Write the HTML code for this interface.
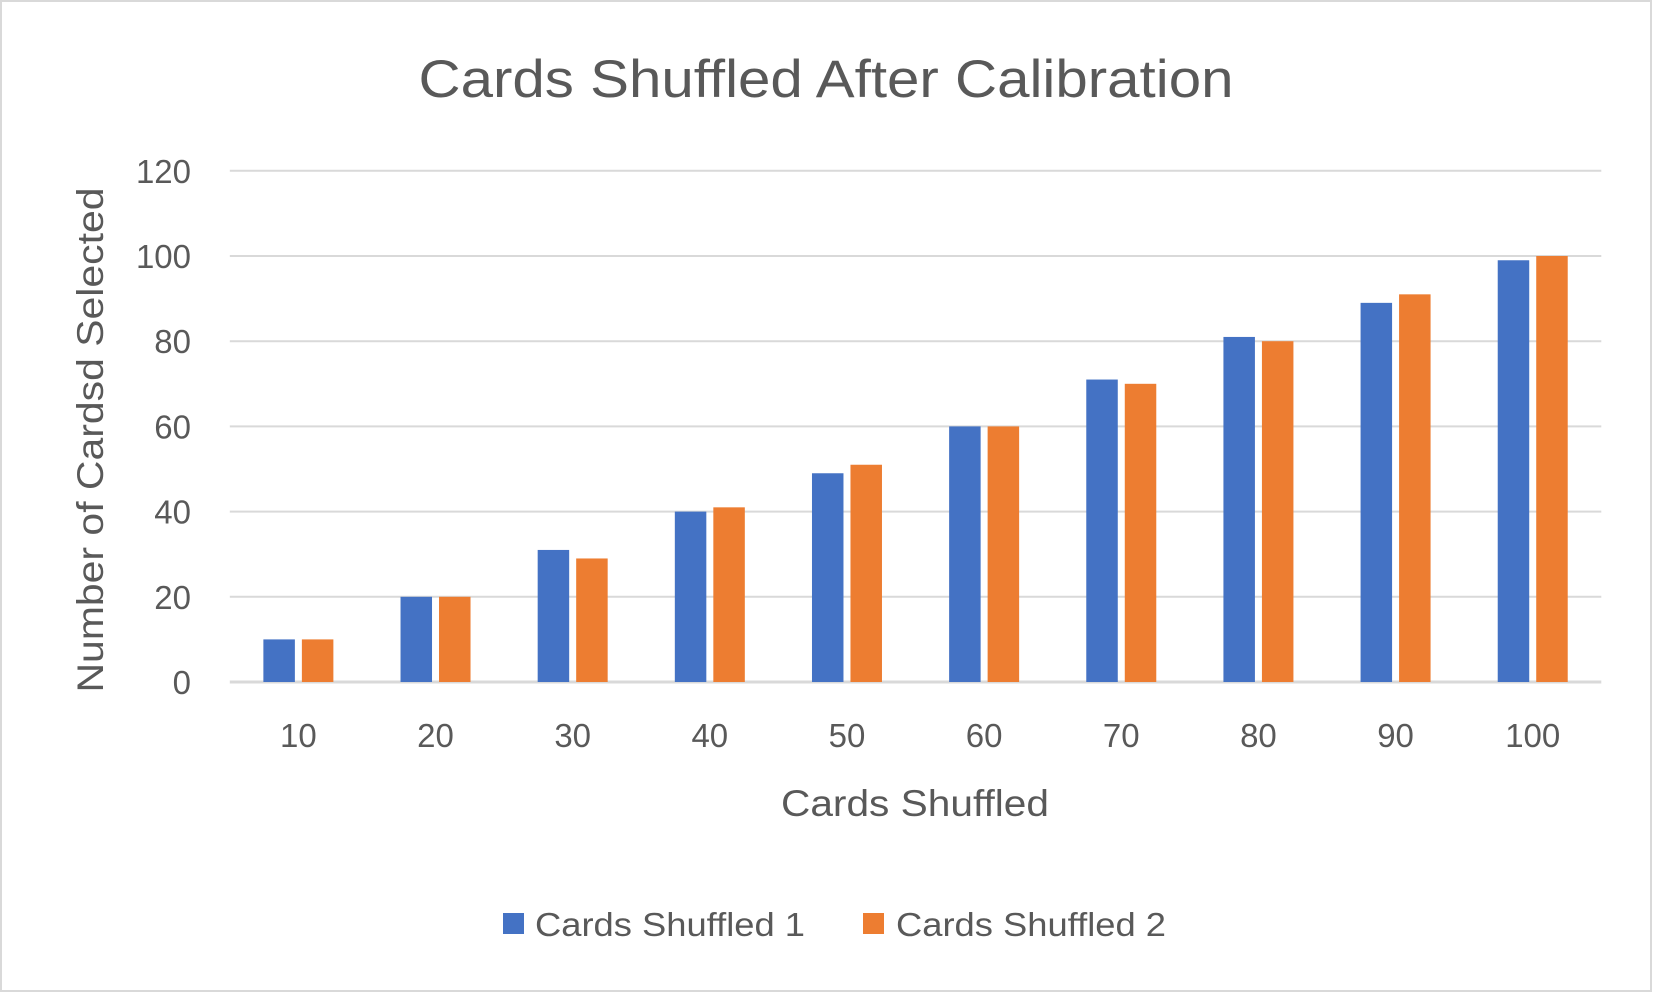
<!DOCTYPE html>
<html><head><meta charset="utf-8"><style>
html,body{margin:0;padding:0;background:#fff;}
svg{display:block;font-family:"Liberation Sans",sans-serif;}
</style></head><body>
<svg id="chart" width="1653" height="993" viewBox="0 0 1653 993">
<rect x="1" y="1" width="1650" height="990" fill="#fff" stroke="#d9d9d9" stroke-width="2"/>
<text x="826" y="97" text-anchor="middle" font-size="53" fill="#595959" textLength="815" lengthAdjust="spacingAndGlyphs">Cards Shuffled After Calibration</text>
<g id="grid"></g><g id="bars"></g><g id="labels"></g>
<text transform="translate(103,440) rotate(-90)" text-anchor="middle" font-size="37" fill="#595959" textLength="505" lengthAdjust="spacingAndGlyphs">Number of Cardsd Selected</text>
<text x="915" y="816" text-anchor="middle" font-size="37" fill="#595959" textLength="268" lengthAdjust="spacingAndGlyphs">Cards Shuffled</text>
<g>
<rect x="503" y="913" width="21" height="21" fill="#4472c4"/>
<text x="535" y="936" font-size="33" fill="#595959" textLength="270" lengthAdjust="spacingAndGlyphs">Cards Shuffled 1</text>
<rect x="863" y="913" width="21" height="21" fill="#ed7d31"/>
<text x="896" y="936" font-size="33" fill="#595959" textLength="270" lengthAdjust="spacingAndGlyphs">Cards Shuffled 2</text>
</g>
</svg>
<script>
const categories=["10","20","30","40","50","60","70","80","90","100"];
const series1=[10,20,31,40,49,60,71,81,89,99];
const series2=[10,20,29,41,51,60,70,80,91,100];
const yTicks=[0,20,40,60,80,100,120];
const NS="http://www.w3.org/2000/svg";
const L=229.8,R=1601.3,Y0=682,Y1=170.8,YMAX=120;
const y=v=>Y0-(v/YMAX)*(Y0-Y1);
const bw=(R-L)/categories.length;
const x=i=>L+bw*i+bw/2;
function mk(t,a,p){const e=document.createElementNS(NS,t);for(const k in a)e.setAttribute(k,a[k]);p.appendChild(e);return e;}
const grid=document.getElementById('grid'),bars=document.getElementById('bars'),labels=document.getElementById('labels');
yTicks.forEach(v=>{
  const l=mk('line',{x1:L,x2:R,y1:y(v),y2:y(v),stroke:'#d9d9d9','stroke-width':v===0?3:2},grid);
  
  
  const t=mk('text',{x:191,y:y(v)+12,'text-anchor':'end','font-size':33,fill:'#595959'},labels);
  t.textContent=v;
  
  
});
categories.forEach((c,i)=>{
  const cx=x(i),w=31.5,g=7;
  const b1=mk('rect',{x:cx-g/2-w,y:y(series1[i]),width:w,height:Y0-y(series1[i]),fill:'#4472c4'},bars);
  
  
  const b2=mk('rect',{x:cx+g/2,y:y(series2[i]),width:w,height:Y0-y(series2[i]),fill:'#ed7d31'},bars);
  
  
  const t=mk('text',{x:cx,y:747,'text-anchor':'middle','font-size':33,fill:'#595959'},labels);
  t.textContent=c;
  
  
});
</script>
</body></html>
